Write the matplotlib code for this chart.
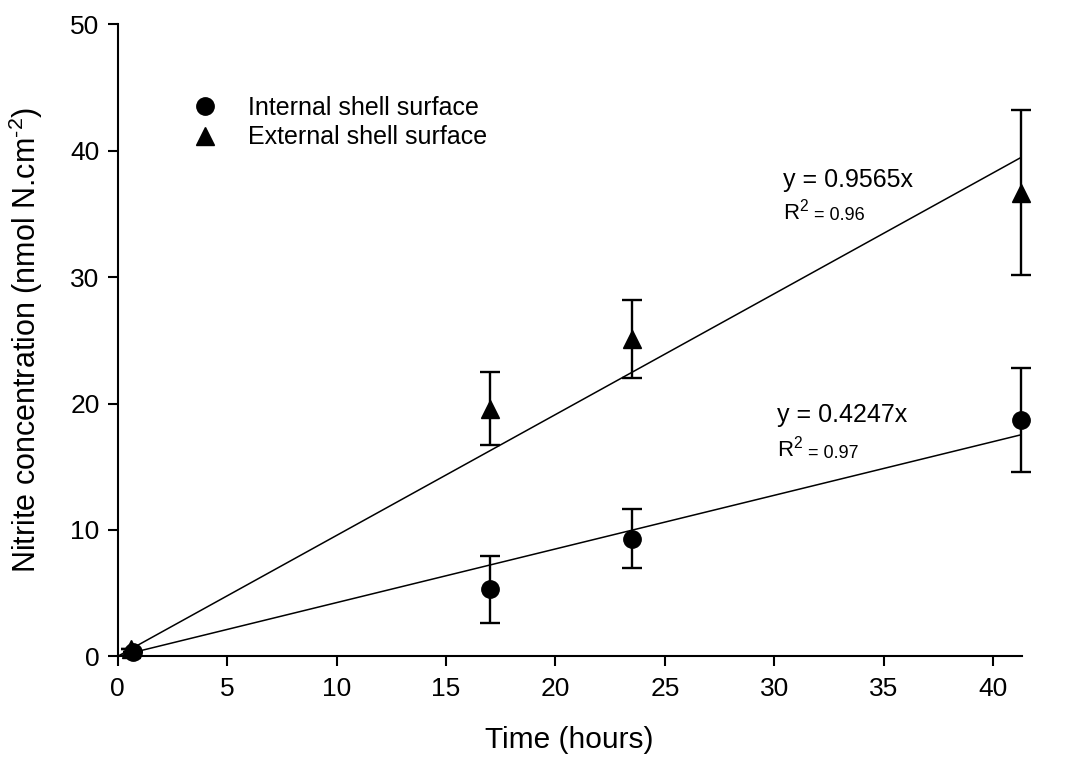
import matplotlib
matplotlib.use("Agg")
import matplotlib.pyplot as plt
from matplotlib.lines import Line2D
import numpy as np

plt.rcParams['font.family'] = ['Liberation Sans', 'DejaVu Sans']
plt.rcParams['mathtext.default'] = 'regular'

# data
time_int = [0.7, 17.0, 23.5, 41.25]
conc_int = [0.3, 5.3, 9.3, 18.7]
err_int = [0.0, 2.65, 2.35, 4.1]

time_ext = [0.6, 17.0, 23.5, 41.25]
conc_ext = [0.6, 19.6, 25.1, 36.7]
err_ext = [0.0, 2.9, 3.1, 6.5]

slope_int, r2_int = 0.4247, 0.97
slope_ext, r2_ext = 0.9565, 0.96
fit_x = [0.0, 41.25]

fig = plt.figure(figsize=(10.8, 7.64), dpi=100)
ax = fig.add_axes([0.109, 0.141, 0.837, 0.827])

# fitted lines
fx = np.array(fit_x)
ax.plot(fx, slope_ext * fx, color='black', lw=1.1, zorder=2)
ax.plot(fx, slope_int * fx, color='black', lw=1.1, zorder=2)

# data with error bars
for t, c, e, m in [(time_int, conc_int, err_int, 'o'), (time_ext, conc_ext, err_ext, '^')]:
    ax.errorbar(t, c, yerr=e, fmt=m, color='black', ms=12.5, elinewidth=1.7,
                capsize=7.2, capthick=1.7, zorder=3, clip_on=False)

# equations
ax.text(30.4, 37.15, 'y = %.4fx' % slope_ext, fontsize=18)
t1 = ax.text(30.4, 34.6, 'R$^2$', fontsize=16)
ax.annotate(' = %.2f' % r2_ext, xy=(1, 0), xycoords=t1, va='bottom', fontsize=13)
ax.text(30.1, 18.55, 'y = %.4fx' % slope_int, fontsize=18)
t2 = ax.text(30.1, 15.8, 'R$^2$', fontsize=16)
ax.annotate(' = %.2f' % r2_int, xy=(1, 0), xycoords=t2, va='bottom', fontsize=13)

handles = [Line2D([], [], marker='o', ls='none', color='black', ms=12.5),
           Line2D([], [], marker='^', ls='none', color='black', ms=12.5)]
ax.legend(handles, ['Internal shell surface', 'External shell surface'],
          loc='upper left', bbox_to_anchor=(0.080, 0.887), frameon=False,
          fontsize=18, handlelength=1.2, handletextpad=1.12, labelspacing=0.22,
          borderpad=0, borderaxespad=0, numpoints=1)

ax.set_xlim(0, 41.3)
ax.set_ylim(0, 50)
ax.set_xticks(range(0, 45, 5))
ax.set_yticks(range(0, 60, 10))
for s in ['top', 'right']:
    ax.spines[s].set_visible(False)
for s in ['left', 'bottom']:
    ax.spines[s].set_linewidth(1.5)
ax.tick_params(direction='out', length=7, width=1.5, labelsize=19)
ax.tick_params(axis='x', pad=8)
ax.tick_params(axis='y', pad=6)

ax.set_xlabel('Time (hours)', fontsize=21.5)
ax.set_ylabel('Nitrite concentration (nmol N.cm$^{\u2010 2}$)', fontsize=22)
ax.xaxis.set_label_coords(0.5, -0.11)
ax.yaxis.set_label_coords(-0.08, 0.5)

plt.savefig('out.png', dpi=100)
plt.close()
